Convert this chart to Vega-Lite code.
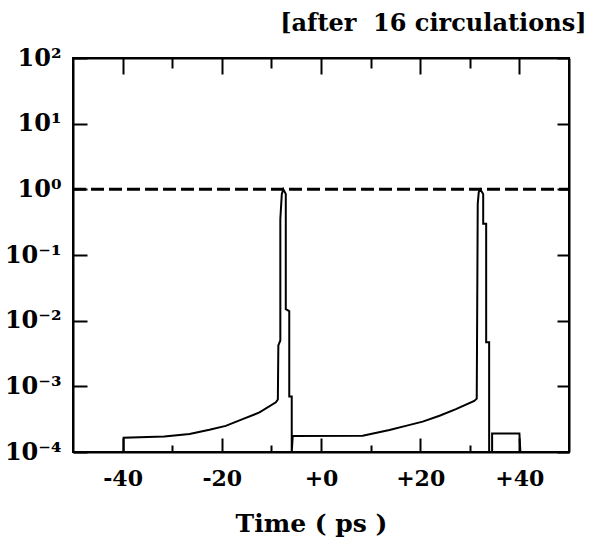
{
  "$schema": "https://vega.github.io/schema/vega-lite/v6.json",
  "width": 496,
  "height": 394,
  "autosize": "none",
  "padding": {"left": 73, "top": 58, "right": 22, "bottom": 92},
  "background": "white",
  "title": {"text": "[after\u00a0\u00a016 circulations]", "anchor": "end", "font": "DejaVu Serif", "fontSize": 24, "fontWeight": "bold", "color": "black", "offset": 10, "dx": 16},
  "config": {
    "view": {"stroke": "black", "strokeWidth": 2},
    "axis": {"grid": false, "domainColor": "black", "domainWidth": 2, "tickColor": "black", "tickWidth": 2, "labelFont": "DejaVu Serif", "labelFontWeight": "bold", "labelColor": "black", "labelFontSize": 21, "titleFont": "DejaVu Serif", "titleFontWeight": "bold", "titleColor": "black", "labelFlush": false, "labelOverlap": false}
  },
  "data": {"values": [
    {"i": 1, "t": -39.8, "v": 0.0001},
    {"i": 2, "t": -39.8, "v": 0.000165},
    {"i": 3, "t": -31.6, "v": 0.000172},
    {"i": 4, "t": -26.5, "v": 0.000188},
    {"i": 5, "t": -22.5, "v": 0.000218},
    {"i": 6, "t": -19.2, "v": 0.00025},
    {"i": 7, "t": -15.8, "v": 0.000317},
    {"i": 8, "t": -12.4, "v": 0.0004},
    {"i": 9, "t": -9.1, "v": 0.00057},
    {"i": 10, "t": -8.7, "v": 0.00063},
    {"i": 11, "t": -8.6, "v": 0.0042},
    {"i": 12, "t": -8.2, "v": 0.005},
    {"i": 13, "t": -8.2, "v": 0.35},
    {"i": 14, "t": -7.9, "v": 0.85},
    {"i": 15, "t": -7.6, "v": 1.0},
    {"i": 16, "t": -7.1, "v": 0.85},
    {"i": 17, "t": -7.1, "v": 0.015},
    {"i": 18, "t": -6.4, "v": 0.014},
    {"i": 19, "t": -6.4, "v": 0.0007},
    {"i": 20, "t": -5.9, "v": 0.0007},
    {"i": 21, "t": -5.9, "v": 0.0001},
    {"i": 22, "t": -5.7, "v": 0.000175},
    {"i": 23, "t": 8.4, "v": 0.000177},
    {"i": 24, "t": 13.8, "v": 0.000216},
    {"i": 25, "t": 17.1, "v": 0.00025},
    {"i": 26, "t": 20.5, "v": 0.00029},
    {"i": 27, "t": 23.9, "v": 0.000356},
    {"i": 28, "t": 27.2, "v": 0.00045},
    {"i": 29, "t": 30.9, "v": 0.0006},
    {"i": 30, "t": 31.4, "v": 0.00065},
    {"i": 31, "t": 31.6, "v": 0.6},
    {"i": 32, "t": 31.8, "v": 0.9},
    {"i": 33, "t": 32.1, "v": 1.0},
    {"i": 34, "t": 32.7, "v": 0.85},
    {"i": 35, "t": 32.7, "v": 0.3},
    {"i": 36, "t": 33.3, "v": 0.3},
    {"i": 37, "t": 33.3, "v": 0.0047},
    {"i": 38, "t": 33.9, "v": 0.0047},
    {"i": 39, "t": 33.9, "v": 0.0001},
    {"i": 40, "t": 34.5, "v": 0.0001},
    {"i": 41, "t": 34.5, "v": 0.000192},
    {"i": 42, "t": 40.0, "v": 0.000192},
    {"i": 43, "t": 40.2, "v": 0.0001}
  ]},
  "layer": [
    {
      "mark": {"type": "line", "color": "black", "strokeWidth": 2},
      "encoding": {
        "x": {"field": "t", "type": "quantitative", "scale": {"domain": [-50, 50], "nice": false, "zero": false},
          "axis": {"orient": "bottom", "values": [-40, -30, -20, -10, 0, 10, 20, 30, 40],
            "tickSize": {"condition": {"test": "datum.value % 20 === 0", "value": -14}, "value": -7},
            "labelExpr": "datum.value % 20 !== 0 ? '' : (datum.value > 0 ? '+' + datum.value : (datum.value == 0 ? '+0' : '' + datum.value))",
            "labelFontSize": 22, "labelPadding": 30, "title": "Time ( ps )", "titleFontSize": 25, "titlePadding": 15, "titleX": 238}},
        "y": {"field": "v", "type": "quantitative", "scale": {"type": "log", "domain": [0.0001, 100], "nice": false},
          "axis": {"orient": "left", "values": [0.0001, 0.001, 0.01, 0.1, 1, 10, 100], "tickSize": -14,
            "labelExpr": "datum.value == 100 ? '10²' : datum.value == 10 ? '10¹' : datum.value == 1 ? '10⁰' : datum.value == 0.1 ? '10⁻¹' : datum.value == 0.01 ? '10⁻²' : datum.value == 0.001 ? '10⁻³' : '10⁻⁴'",
            "labelFontSize": 24, "labelPadding": 26, "title": null}},
        "order": {"field": "i", "type": "quantitative"}
      }
    },
    {
      "data": {"values": [{}]},
      "mark": {"type": "rule", "color": "black", "strokeWidth": 3, "strokeDash": [13, 5]},
      "encoding": {
        "x": {"datum": -50, "type": "quantitative",
          "axis": {"orient": "top", "values": [-40, -30, -20, -10, 0, 10, 20, 30, 40],
            "tickSize": {"condition": {"test": "datum.value % 20 === 0", "value": -16}, "value": -10},
            "labels": false, "title": null}},
        "x2": {"datum": 50},
        "y": {"datum": 1, "type": "quantitative",
          "axis": {"orient": "right", "values": [0.0001, 0.001, 0.01, 0.1, 1, 10, 100], "tickSize": -12, "labels": false, "title": null}}
      }
    }
  ],
  "resolve": {"axis": {"x": "independent", "y": "independent"}}
}
